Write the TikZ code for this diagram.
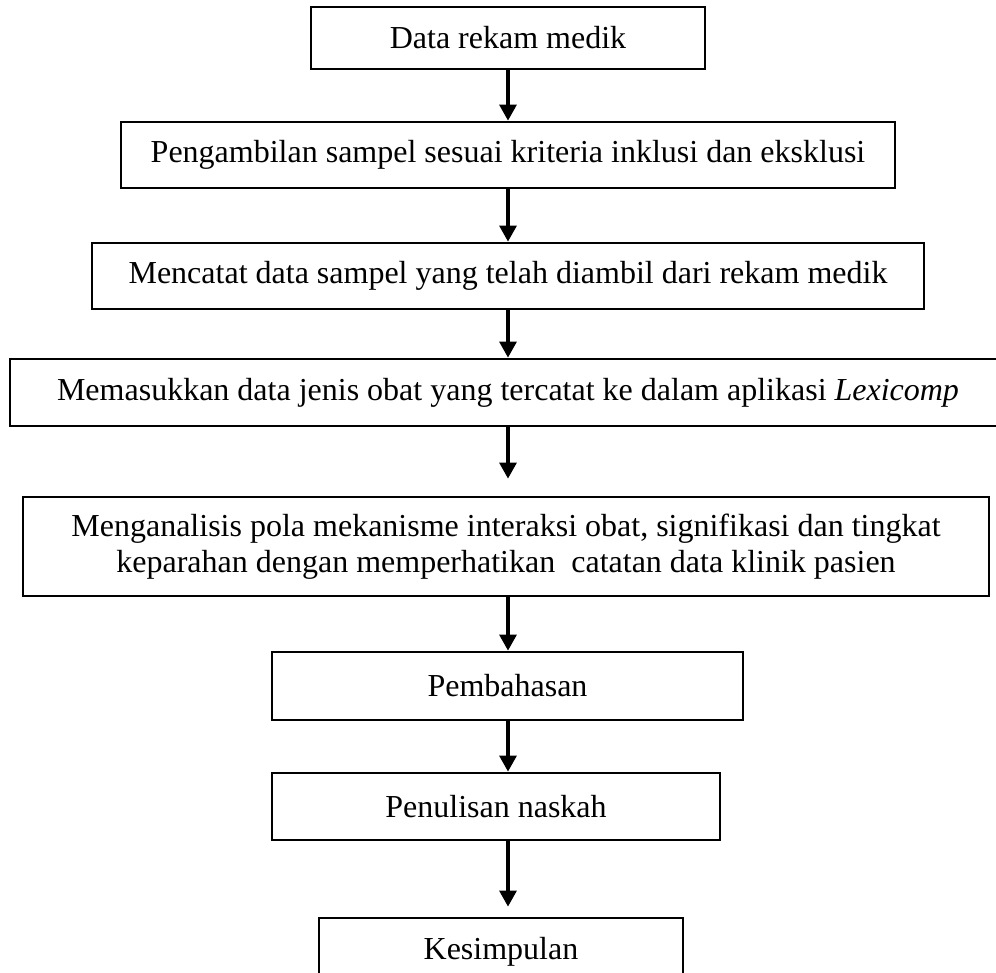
\documentclass[tikz,border=0pt]{standalone}
\usepackage{fontspec}
\setmainfont{Liberation Serif}
\usetikzlibrary{arrows.meta}

\tikzset{
  stepbox/.style={draw, line width=2.8pt, inner sep=0pt, align=center,
    font=\fontsize{32}{36}\selectfont},
  flow/.style={line width=3.2pt, -{Triangle[length=16pt,width=17pt]}}
}

\begin{document}
\begin{tikzpicture}[x=1pt,y=-1pt]
\useasboundingbox (0,0) rectangle (996,973);
\clip (0,0) rectangle (996,973);
% boxes
\node[stepbox, minimum width=394, minimum height=62] (rekam) at (508,38) {Data rekam medik};
\node[stepbox, minimum width=774, minimum height=66] (sampel) at (508,155) {Pengambilan sampel sesuai kriteria inklusi dan eksklusi};
\node[stepbox, minimum width=832, minimum height=66] (catat) at (508,276) {Mencatat data sampel yang telah diambil dari rekam medik};
\node[stepbox, minimum width=996, minimum height=67] (input) at (508,392.5) {Memasukkan data jenis obat yang tercatat ke dalam aplikasi \textit{Lexicomp}};
\node[stepbox, minimum width=966, minimum height=99] (analisis) at (506,546.5) {Menganalisis pola mekanisme interaksi obat, signifikasi dan tingkat\\keparahan dengan memperhatikan\ \ catatan data klinik pasien};
\node[stepbox, minimum width=471, minimum height=68] (bahas) at (507.5,686) {Pembahasan};
\node[stepbox, minimum width=448, minimum height=67] (naskah) at (496,806.5) {Penulisan naskah};
\node[stepbox, minimum width=364, minimum height=67] (simpul) at (501,951.5) {Kesimpulan};
% arrows
\coordinate (spine) at (508,0);
\foreach \a/\b/\s in {rekam/sampel/0, sampel/catat/0, catat/input/0, input/analisis/17,
                      analisis/bahas/0, bahas/naskah/0, naskah/simpul/10} {
\draw[flow, shorten >=\s] (\a.south -| spine) -- (\b.north -| spine);
}
\end{tikzpicture}
\end{document}
